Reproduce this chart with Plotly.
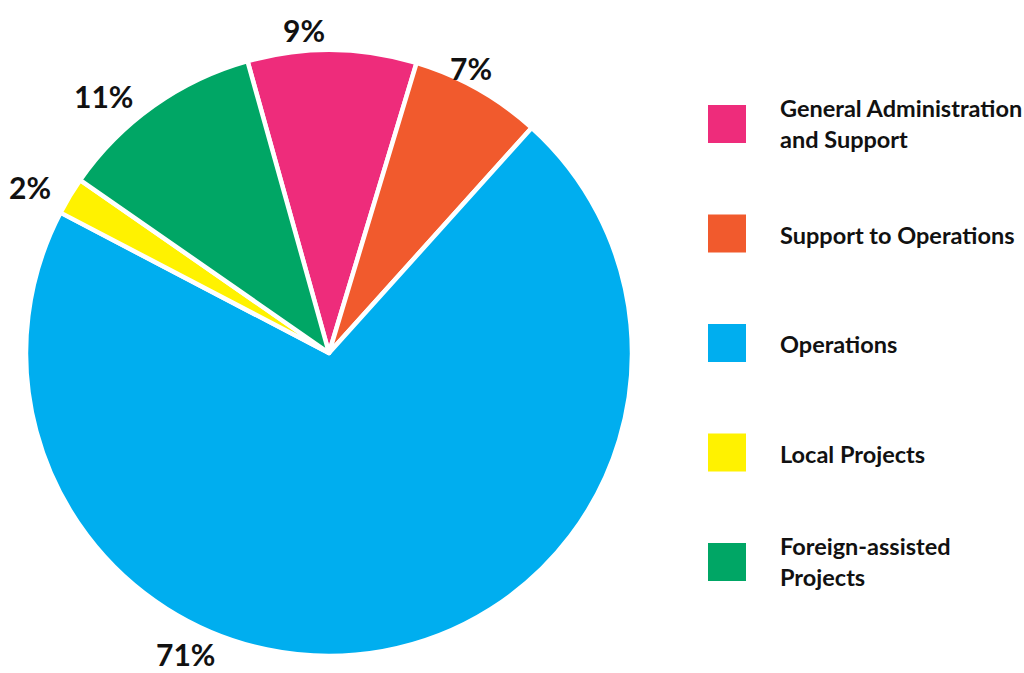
import plotly.graph_objects as go

categories = ["General Administration<br>and Support", "Support to Operations", "Operations",
              "Local Projects", "Foreign-assisted<br>Projects"]
values = [9, 7, 71, 2, 11]
colors = ["#EE2C7B", "#F15A2D", "#00AEEF", "#FFF200", "#00A665"]

W, H = 1024, 673
FONT = "Lato, 'Open Sans', sans-serif"

# pie geometry (pixels)
cx, cy, r = 329, 353, 303

# label placement (pixels) for the percentage texts
label_pos = [(304, 30), (471, 68), (185, 654), (30, 187), (103, 96)]

fig = go.Figure()
fig.add_trace(go.Pie(
    labels=categories,
    values=values,
    sort=False,
    direction="clockwise",
    rotation=-15.6,
    marker=dict(colors=colors, line=dict(color="white", width=4.5)),
    textinfo="none",
    hoverinfo="label+percent",
    showlegend=False,
    domain=dict(x=[(cx - r) / W, (cx + r) / W], y=[(H - cy - r) / H, (H - cy + r) / H]),
))

annotations = []
for v, (px, py) in zip(values, label_pos):
    annotations.append(dict(
        x=px / W, y=1 - py / H, xref="paper", yref="paper",
        text=f"<b>{v}%</b>", showarrow=False,
        font=dict(family=FONT, size=30, color="#111111"),
        xanchor="center", yanchor="middle",
    ))

shapes = []
leg_x0, leg_size = 708, 38
leg_y0, leg_step = 105, 109.5
for i, (cat, col) in enumerate(zip(categories, colors)):
    y0 = leg_y0 + i * leg_step
    shapes.append(dict(
        type="rect", xref="paper", yref="paper",
        x0=leg_x0 / W, x1=(leg_x0 + leg_size) / W,
        y0=1 - (y0 + leg_size) / H, y1=1 - y0 / H,
        fillcolor=col, line=dict(width=0),
    ))
    two_line = "<br>" in cat
    annotations.append(dict(
        x=778 / W, y=1 - (y0 + leg_size / 2 + (-1 if two_line else 1)) / H,
        xref="paper", yref="paper",
        text=f"<b>{cat}</b>", showarrow=False, align="left",
        font=dict(family=FONT, size=23.5, color="#111111"),
        xanchor="left", yanchor="middle",
    ))

fig.update_layout(
    width=W, height=H,
    margin=dict(l=0, r=0, t=0, b=0),
    paper_bgcolor="white", plot_bgcolor="white",
    annotations=annotations, shapes=shapes,
)

fig.write_html("out.html", config={"displayModeBar": False},
               post_script="document.body.style.margin='0';document.body.style.overflow='hidden';")
